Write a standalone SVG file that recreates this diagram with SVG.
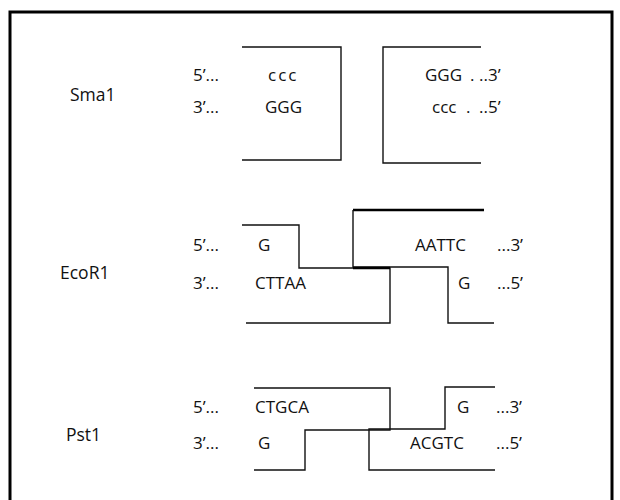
<svg xmlns="http://www.w3.org/2000/svg" width="620" height="500" viewBox="0 0 620 500">
<style>
text{font-family:"Open Sans","Liberation Sans",sans-serif;font-size:17px;fill:#111}
.lbl{font-size:17.5px}
.ln{fill:none;stroke:#111;stroke-width:1.4}
.thick{fill:none;stroke:#000;stroke-width:2.5}
.frame{fill:none;stroke:#000;stroke-width:3}
</style>
<rect width="620" height="500" fill="#fff"/>
<path class="frame" d="M10,501 V12 H612 V501"/>
<g id="sma1">
<text class="lbl" x="70" y="101">Sma1</text>
<text x="193" y="81">5’...</text>
<text x="193" y="113">3’...</text>
<text x="268" y="81" letter-spacing="2">ccc</text>
<text x="265" y="113">GGG</text>
<text x="425" y="81">GGG</text>
<text x="470" y="81">.</text>
<text x="479" y="81">..3’</text>
<text x="432" y="113">ccc</text>
<text x="466" y="113">.</text>
<text x="479" y="113">..5’</text>
</g>
<g id="ecor1">
<text class="lbl" x="60" y="279">EcoR1</text>
<text x="193" y="251">5’...</text>
<text x="193" y="289">3’...</text>
<text x="258" y="251">G</text>
<text x="255" y="289">CTTAA</text>
<text x="415" y="251">AATTC</text>
<text x="497" y="251">...3’</text>
<text x="458" y="289">G</text>
<text x="497" y="289">...5’</text>
</g>
<g id="pst1">
<text class="lbl" x="66" y="441">Pst1</text>
<text x="193" y="413">5’...</text>
<text x="193" y="449">3’...</text>
<text x="255" y="413">CTGCA</text>
<text x="258" y="449">G</text>
<text x="457" y="413">G</text>
<text x="496" y="413">...3’</text>
<text x="410" y="449">ACGTC</text>
<text x="496" y="449">...5’</text>
</g>
<g id="connectors">
<path class="ln" d="M242,47 H341 V160 H242"/>
<path class="ln" d="M481,47 H383 V163 H481"/>
<path class="ln" d="M242,225 H299 V268 H390 V323 H246"/>
<path class="thick" d="M353,210 H484"/>
<path class="ln" d="M353,210 V267 H448 V323 H494"/>
<path class="thick" d="M353,268 H390" stroke-width="2"/>
<path class="ln" d="M254,388 H390 V430 H305 V470 H254"/>
<path class="ln" d="M495,387 H445 V429 H369 V470 H495"/>
</g>
</svg>
